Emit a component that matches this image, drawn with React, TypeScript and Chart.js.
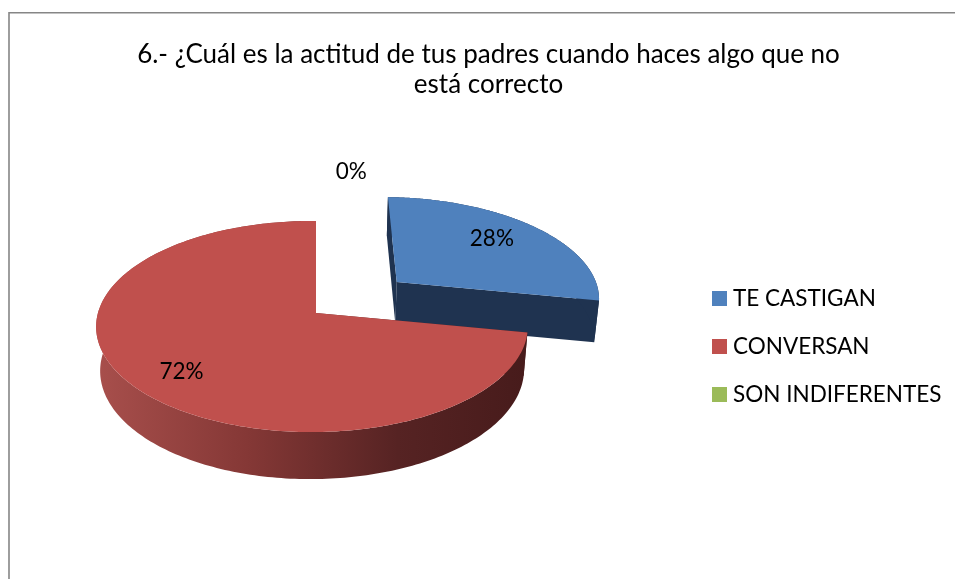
import React, { useEffect, useRef } from "react";
import { Chart, registerables } from "chart.js";

Chart.register(...registerables);

const categories = ["TE CASTIGAN", "CONVERSAN", "SON INDIFERENTES"];
const percentages = [28, 72, 0];
const valueLabels = ["28%", "72%", "0%"];
const titleLines = [
  "6.- ¿Cuál es la actitud de tus padres cuando haces algo que no",
  "está correcto",
];
const topColors = ["#4F81BD", "#C0504D", "#9BBB59"];
// slice displacement on the pie's unit disc
const explode = [
  [0.395, -0.312],
  [0, 0],
  [0, 0],
];
// label anchors on the pie's unit disc
const labelDisc = [
  [0.92, -0.8],
  [-0.58, 0.52],
  [0.2, -1.65],
];

const FONT = "Lato, Carlito, Calibri, sans-serif";
const LABEL_SIZE = 22.5;
const VIEW = { cx: 316, cy: 313, ax: 214, ay: 103.8, p: 0.128, q: -0.0185, r: 0.018, d: 44 };

function project(u: number, v: number, h: number): [number, number] {
  const w = 1 - VIEW.p * v - VIEW.q * u + VIEW.r * h;
  return [VIEW.cx + (VIEW.ax * u) / w, VIEW.cy + (VIEW.ay * v + VIEW.d * h) / w];
}

function poly(ctx: CanvasRenderingContext2D, pts: [number, number][], fill: any) {
  ctx.beginPath();
  pts.forEach((p, i) => (i ? ctx.lineTo(p[0], p[1]) : ctx.moveTo(p[0], p[1])));
  ctx.closePath();
  ctx.fillStyle = fill;
  ctx.fill();
}

const pie3d = {
  id: "pie3d",
  beforeDraw(chart: any) {
    const { ctx, width, height } = chart;
    ctx.save();
    ctx.strokeStyle = "#868686";
    ctx.lineWidth = 1.6;
    ctx.beginPath();
    ctx.moveTo(9, height);
    ctx.lineTo(9, 12.8);
    ctx.lineTo(width, 12.8);
    ctx.stroke();
    ctx.restore();
  },
  beforeDatasetsDraw(chart: any) {
    const ctx: CanvasRenderingContext2D = chart.ctx;
    const arcs = chart.getDatasetMeta(0).data;
    const redWall = ctx.createLinearGradient(96, 0, 527, 0);
    redWall.addColorStop(0, "#A84F4C");
    redWall.addColorStop(0.35, "#853836");
    redWall.addColorStop(0.7, "#562323");
    redWall.addColorStop(1, "#471B1B");
    const walls = ["#1F3350", redWall, "#5E7135"];
    arcs.forEach((arc: any, i: number) => {
      const { startAngle: a0, endAngle: a1 } = arc.getProps(["startAngle", "endAngle"], true);
      if (a1 - a0 < 1e-6) return;
      const [du, dv] = explode[i];
      const rim = (h: number) => {
        const pts: [number, number][] = [];
        const n = 240;
        for (let k = 0; k <= n; k++) {
          const a = a0 + ((a1 - a0) * k) / n;
          pts.push(project(du + Math.cos(a), dv + Math.sin(a), h));
        }
        return pts;
      };
      const topRim = rim(0);
      const lowRim = rim(1);
      const apexTop = project(du, dv, 0);
      const apexLow = project(du, dv, 1);
      poly(ctx, [apexTop, topRim[0], lowRim[0], apexLow], walls[i]);
      poly(ctx, [apexTop, topRim[topRim.length - 1], lowRim[lowRim.length - 1], apexLow], walls[i]);
      poly(ctx, [...topRim, ...lowRim.slice().reverse()], walls[i]);
      poly(ctx, [apexTop, ...topRim], topColors[i]);
    });
    // value labels
    ctx.save();
    ctx.fillStyle = "#000";
    ctx.font = `${LABEL_SIZE}px ${FONT}`;
    ctx.textAlign = "center";
    ctx.textBaseline = "middle";
    valueLabels.forEach((t, i) => {
      const [x, y] = project(labelDisc[i][0], labelDisc[i][1], 0);
      ctx.fillText(t, x, y);
    });
    // legend
    ctx.textAlign = "left";
    categories.forEach((c, i) => {
      const y = 298.5 + 48 * i;
      ctx.fillStyle = topColors[i];
      ctx.fillRect(712, y - 7.5, 15, 15);
      ctx.fillStyle = "#000";
      ctx.fillText(c, 733, y);
    });
    ctx.restore();
    return false;
  },
};

export default function App() {
  const ref = useRef<HTMLCanvasElement>(null);
  useEffect(() => {
    const chart = new Chart(ref.current!, {
      type: "pie",
      data: {
        labels: categories,
        datasets: [{ data: percentages, backgroundColor: topColors, borderWidth: 0 }],
      },
      options: {
        animation: false,
        responsive: false,
        layout: { padding: { left: 22, top: 40 } },
        plugins: {
          legend: { display: false },
          tooltip: { enabled: false },
          title: {
            display: true,
            text: titleLines,
            color: "#000",
            font: { family: FONT, size: 26, weight: "normal", lineHeight: 1.154 },
            padding: 0,
          },
        },
      },
      plugins: [pie3d],
    } as any);
    return () => chart.destroy();
  }, []);
  return (
    <div style={{ position: "absolute", left: 0, top: 0, width: 955, height: 579, background: "#fff" }}>
      <canvas ref={ref} width={955} height={579} style={{ display: "block" }} />
    </div>
  );
}
